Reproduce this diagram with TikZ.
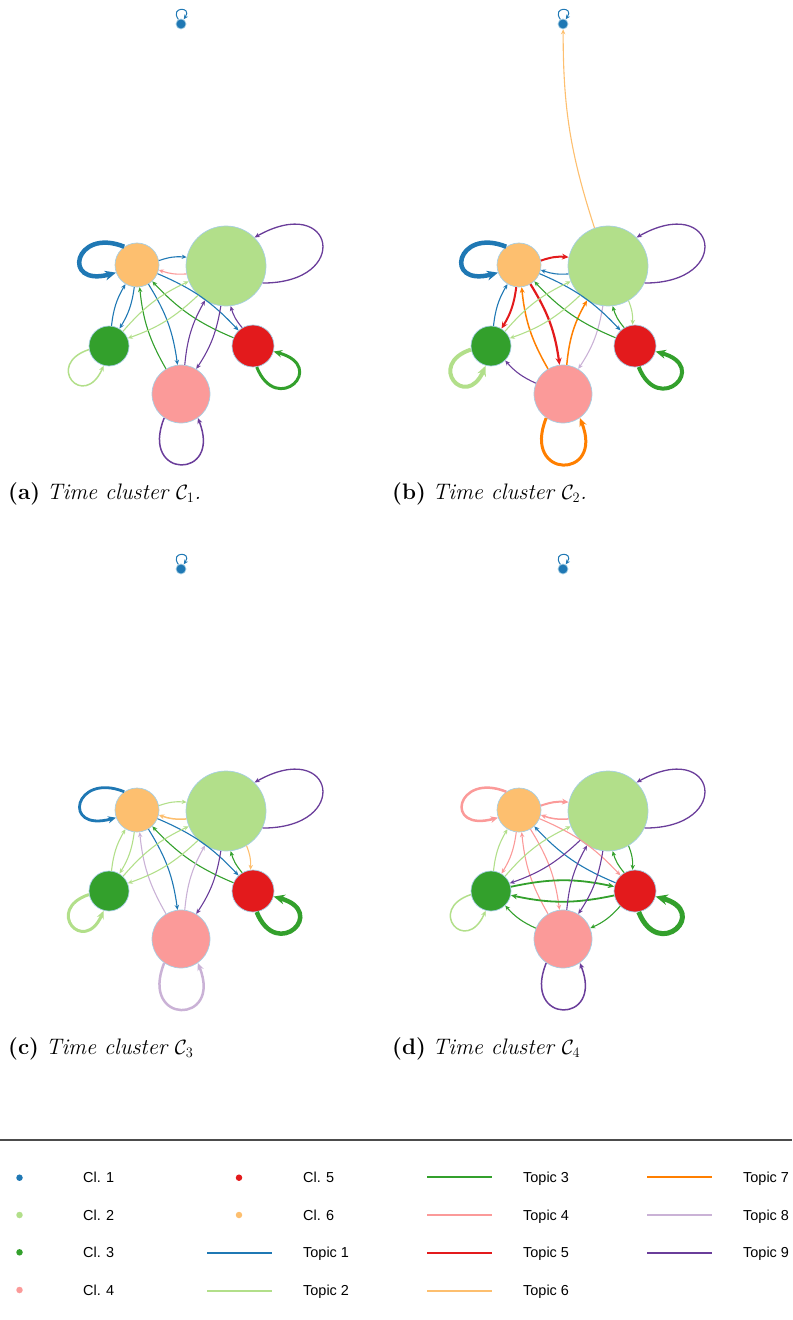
\documentclass[tikz,border=0pt]{standalone}
\usepackage{fontspec}
\newfontfamily\legfont{Liberation Sans}
\usetikzlibrary{arrows.meta}
\definecolor{P1}{HTML}{1F78B4}
\definecolor{P2}{HTML}{B2DF8A}
\definecolor{P3}{HTML}{33A02C}
\definecolor{P4}{HTML}{FB9A99}
\definecolor{P5}{HTML}{E31A1C}
\definecolor{P6}{HTML}{FDBF6F}
\definecolor{P7}{HTML}{FF7F00}
\definecolor{P8}{HTML}{CAB2D6}
\definecolor{P9}{HTML}{6A3D9A}
\definecolor{nb}{HTML}{A6CEE3}
\newcommand\capfont{\fontsize{22.5}{26}\selectfont}
\tikzset{
  cl/.style={circle, draw=nb, line width=0.7bp, inner sep=0pt, minimum size=#1},
  ed/.style={-{Stealth[length=3bp 1.8,width=2.6bp 1.6]}, line width=1.1bp},
  T1/.style={ed, draw=P1},
  T2/.style={ed, draw=P2},
  T3/.style={ed, draw=P3},
  T4/.style={ed, draw=P4},
  T5/.style={ed, draw=P5},
  T6/.style={ed, draw=P6},
  T7/.style={ed, draw=P7},
  T8/.style={ed, draw=P8},
  T9/.style={ed, draw=P9},
  lw/.style={line width=#1bp},
  capt/.style={anchor=base west, inner sep=0pt},
  legtxt/.style={anchor=base west, inner sep=0pt, font=\legfont\fontsize{14.5}{17}\selectfont},
  legdot/.style={circle, fill=#1, inner sep=0pt, minimum size=6.5bp},
  legline/.style={fill=#1, draw=none}
}
\newcommand\mknodes[1]{%
  \node[cl=10bp, fill=P1] (#1c1) at (181,-24) {};
  \node[cl=44bp, fill=P6] (#1c6) at (137,-265) {};
  \node[cl=80bp, fill=P2] (#1c2) at (226,-266) {};
  \node[cl=40bp, fill=P3] (#1c3) at (109,-346) {};
  \node[cl=42bp, fill=P5] (#1c5) at (253,-346) {};
  \node[cl=58bp, fill=P4] (#1c4) at (181,-394) {};}
\newcommand\edg[4]{\draw[#4] (#1#2) to[bend left=12] (#1#3);}
\newcommand\lpone[2]{\draw[#2] (#1c1.120) .. controls +(-9,13) and +(9,13) .. (#1c1.60);}
\newcommand\lpsix[2]{\draw[#2] (#1c6.125) .. controls +(-50,20) and +(-55,-15) .. (#1c6.200);}
\newcommand\lptwo[2]{\draw[#2] (#1c2.335) .. controls +(90,0) and +(80,45) .. (#1c2.45);}
\newcommand\lpthree[2]{\draw[#2] (#1c3.190) .. controls +(-45,-15) and +(-20,-45) .. (#1c3.255);}
\newcommand\lpfive[2]{\draw[#2] (#1c5.280) .. controls +(20,-50) and +(55,-15) .. (#1c5.345);}
\newcommand\lpfour[2]{\draw[#2] (#1c4.235) .. controls +(-25,-62) and +(25,-62) .. (#1c4.305);}
\newcommand\legbar[3]{\fill[legline=#1] (#2,#3+0.8) rectangle (#2+65,#3-0.8);}
\begin{document}
\begin{tikzpicture}[x=1bp, y=1bp]
\useasboundingbox (0,0) rectangle (792,-1320);
% ---------- legend bars
\legbar{P3}{427}{-1177.1}
\legbar{P7}{647}{-1177.1}
\legbar{P4}{427}{-1215}
\legbar{P8}{647}{-1215}
\legbar{P1}{207}{-1253}
\legbar{P5}{427}{-1253}
\legbar{P9}{647}{-1253}
\legbar{P2}{207}{-1291}
\legbar{P6}{427}{-1291}
% ---------- panel (a)
\begin{scope}
\mknodes{a}
\lpone{a}{T1,lw=1}
\lpsix{a}{T1,lw=4.5}
\lptwo{a}{T9,lw=1.3}
\lpthree{a}{T2,lw=1.5}
\lpfive{a}{T3,lw=3}
\lpfour{a}{T9,lw=1.5}
\edg{a}{c6}{c2}{T1}
\edg{a}{c2}{c6}{T4}
\edg{a}{c3}{c6}{T1}
\edg{a}{c6}{c3}{T1}
\edg{a}{c6}{c4}{T1}
\edg{a}{c4}{c6}{T3}
\edg{a}{c6}{c5}{T1}
\edg{a}{c5}{c6}{T3}
\edg{a}{c3}{c2}{T2}
\edg{a}{c2}{c3}{T2}
\edg{a}{c4}{c2}{T9}
\edg{a}{c2}{c4}{T9}
\edg{a}{c5}{c2}{T9}
\end{scope}
\node[capt] (capa) at (8,-499) {\capfont\textbf{(a)} \textit{Time cluster $\mathcal{C}_1$.}};
% ---------- panel (b)
\begin{scope}[shift={(382,0)}]
\mknodes{b}
\lpone{b}{T1,lw=1}
\lpsix{b}{T1,lw=4.5}
\lptwo{b}{T9,lw=1.3}
\lpthree{b}{T2,lw=4}
\lpfive{b}{T3,lw=4}
\lpfour{b}{T7,lw=3}
\edg{b}{c6}{c2}{T5,lw=2}
\edg{b}{c2}{c6}{T1}
\edg{b}{c3}{c6}{T1}
\edg{b}{c6}{c3}{T5,lw=2}
\edg{b}{c4}{c6}{T7,lw=1.5}
\edg{b}{c6}{c4}{T5,lw=2.2}
\edg{b}{c4}{c2}{T7,lw=1.5}
\edg{b}{c2}{c4}{T8}
\edg{b}{c6}{c5}{T1}
\edg{b}{c5}{c6}{T3}
\edg{b}{c3}{c2}{T2}
\edg{b}{c2}{c3}{T2}
\edg{b}{c5}{c2}{T3}
\edg{b}{c2}{c5}{T2}
\edg{b}{c4}{c3}{T9}
\draw[T6] (bc2) to[bend left=9] (bc1);
\end{scope}
\node[capt] (capb) at (392,-499) {\capfont\textbf{(b)} \textit{Time cluster $\mathcal{C}_2$.}};
% ---------- panel (c)
\begin{scope}[shift={(0,-545)}]
\mknodes{c}
\lpone{c}{T1,lw=1}
\lpsix{c}{T1,lw=2.8}
\lptwo{c}{T9,lw=1.3}
\lpthree{c}{T2,lw=3}
\lpfive{c}{T3,lw=4.5}
\lpfour{c}{T8,lw=2.5}
\edg{c}{c6}{c2}{T2}
\edg{c}{c2}{c6}{T6,lw=1.5}
\edg{c}{c3}{c6}{T2}
\edg{c}{c6}{c3}{T2}
\edg{c}{c4}{c6}{T8}
\edg{c}{c6}{c4}{T1}
\edg{c}{c6}{c5}{T1}
\edg{c}{c5}{c6}{T3}
\edg{c}{c3}{c2}{T2}
\edg{c}{c2}{c3}{T2}
\edg{c}{c4}{c2}{T8}
\edg{c}{c2}{c4}{T9}
\edg{c}{c5}{c2}{T3}
\edg{c}{c2}{c5}{T6}
\end{scope}
\node[capt] (capc) at (8,-1054) {\capfont\textbf{(c)} \textit{Time cluster $\mathcal{C}_3$}};
% ---------- panel (d)
\begin{scope}[shift={(382,-545)}]
\mknodes{d}
\lpone{d}{T1,lw=1}
\lpsix{d}{T4,lw=2.5}
\lptwo{d}{T9,lw=1.3}
\lpthree{d}{T2,lw=1.5}
\lpfive{d}{T3,lw=5}
\lpfour{d}{T9,lw=1.5}
\edg{d}{c6}{c2}{T4,lw=2}
\edg{d}{c2}{c6}{T4,lw=1.5}
\edg{d}{c3}{c6}{T2}
\edg{d}{c6}{c3}{T4}
\edg{d}{c4}{c6}{T4}
\edg{d}{c6}{c4}{T4}
\edg{d}{c6}{c5}{T4}
\edg{d}{c5}{c6}{T1}
\edg{d}{c3}{c2}{T2}
\edg{d}{c2}{c3}{T9}
\edg{d}{c3}{c5}{T3,lw=1.8}
\edg{d}{c5}{c3}{T3,lw=1.8}
\edg{d}{c4}{c2}{T9}
\edg{d}{c2}{c4}{T9}
\edg{d}{c5}{c2}{T3}
\edg{d}{c2}{c5}{T3}
\edg{d}{c4}{c3}{T3}
\edg{d}{c5}{c4}{T3}
\end{scope}
\node[capt] (capd) at (392,-1054) {\capfont\textbf{(d)} \textit{Time cluster $\mathcal{C}_4$}};
% ---------- legend
\draw[line width=1.2bp, black!70] (0,-1140) -- (792,-1140);
\node[legdot=P1] (d1) at (19.5,-1177.7) {};
\node[legdot=P2] (d2) at (19.5,-1215) {};
\node[legdot=P3] (d3) at (19.5,-1252.3) {};
\node[legdot=P4] (d4) at (19.5,-1290) {};
\node[legdot=P5] (d5) at (239,-1177.7) {};
\node[legdot=P6] (d6) at (239,-1215) {};
\node[legtxt] (tc1) at (83,-1182.7) {Cl. 1};
\node[legtxt] (tc2) at (83,-1220) {Cl. 2};
\node[legtxt] (tc3) at (83,-1257.3) {Cl. 3};
\node[legtxt] (tc4) at (83,-1295) {Cl. 4};
\node[legtxt] (tc5) at (303,-1182.7) {Cl. 5};
\node[legtxt] (tc6) at (303,-1220) {Cl. 6};
\node[legtxt] (tt1) at (303,-1257.3) {Topic 1};
\node[legtxt] (tt2) at (303,-1295) {Topic 2};
\node[legtxt] (tt3) at (523,-1182.7) {Topic 3};
\node[legtxt] (tt4) at (523,-1220) {Topic 4};
\node[legtxt] (tt5) at (523,-1257.3) {Topic 5};
\node[legtxt] (tt6) at (523,-1295) {Topic 6};
\node[legtxt] (tt7) at (743,-1182.7) {Topic 7};
\node[legtxt] (tt8) at (743,-1220) {Topic 8};
\node[legtxt] (tt9) at (743,-1257.3) {Topic 9};
\end{tikzpicture}
\end{document}
